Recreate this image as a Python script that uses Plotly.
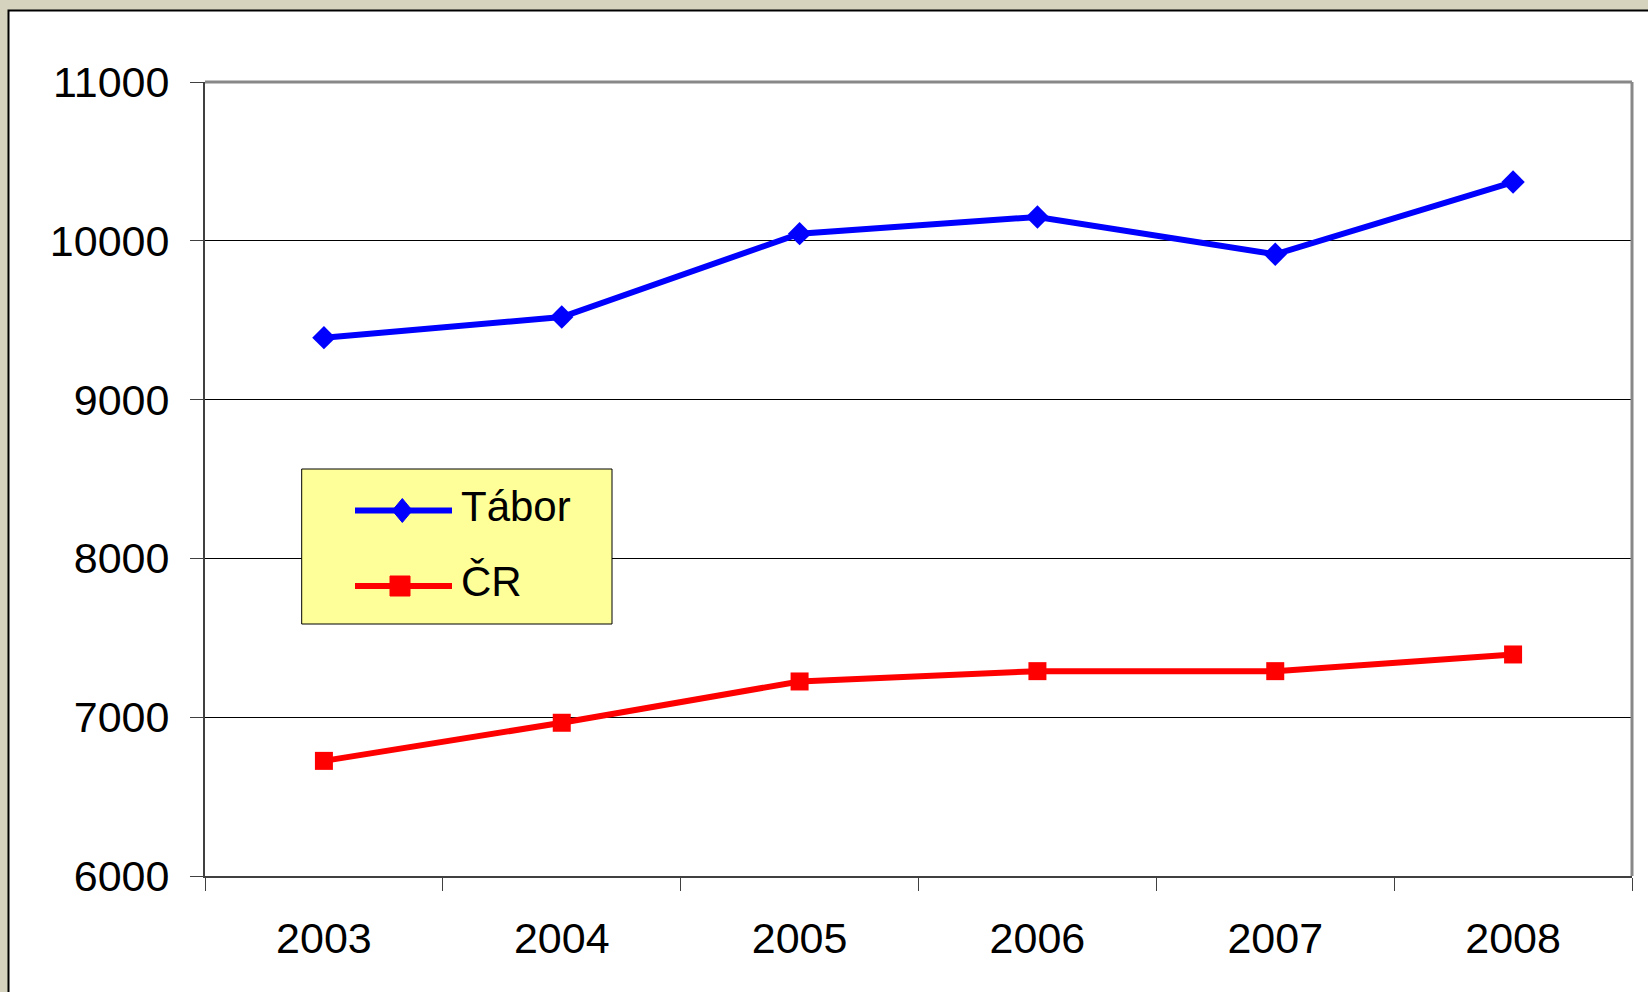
import plotly.graph_objects as go

years = ["2003", "2004", "2005", "2006", "2007", "2008"]
tabor = [9390, 9520, 10045, 10150, 9915, 10370]
cr = [6725, 6965, 7225, 7290, 7290, 7395]
series_names = ["Tábor", "ČR"]
y_ticks = [6000, 7000, 8000, 9000, 10000, 11000]

FONT = "Arial, Liberation Sans, sans-serif"
W, H = 1648, 992
L, R, T, B = 205, 16, 82, 116
PW, PH = W - L - R, H - T - B


def px(x):
    return (x - L) / PW


def py(y):
    return (H - B - y) / PH


fig = go.Figure()
fig.add_trace(go.Scatter(x=years, y=tabor, mode="lines+markers", name=series_names[0],
                         line=dict(color="#0000ff", width=6),
                         marker=dict(symbol="diamond", size=18, color="#0000ff"),
                         showlegend=False))
fig.add_trace(go.Scatter(x=years, y=cr, mode="lines+markers", name=series_names[1],
                         line=dict(color="#ff0000", width=6),
                         marker=dict(symbol="square", size=18, color="#ff0000"),
                         showlegend=False))

shapes = [
    # white panel
    dict(type="rect", xref="paper", yref="paper", x0=px(8.5), x1=px(1700), y0=py(1100), y1=py(10.5),
         fillcolor="white", line=dict(color="black", width=2), layer="below"),
    # top and right plot border
    dict(type="line", xref="paper", yref="paper", x0=0, x1=1, y0=1, y1=1,
         line=dict(color="#888888", width=3)),
    dict(type="line", xref="paper", yref="paper", x0=1, x1=1, y0=0, y1=1,
         line=dict(color="#888888", width=3)),
    # legend box
    dict(type="rect", xref="paper", yref="paper", x0=px(301.7), x1=px(612), y0=py(624), y1=py(469),
         fillcolor="#ffff99", line=dict(color="black", width=1)),
    # legend lines
    dict(type="line", xref="paper", yref="paper", x0=px(355), x1=px(452), y0=py(510.5), y1=py(510.5),
         line=dict(color="#0000ff", width=6)),
    dict(type="line", xref="paper", yref="paper", x0=px(355), x1=px(452), y0=py(586), y1=py(586),
         line=dict(color="#ff0000", width=6)),
    # legend diamond
    dict(type="path", xref="paper", yref="paper",
         path=f"M {px(402.3)},{py(498.5)} L {px(412.3)},{py(510.5)} L {px(402.3)},{py(522.5)} L {px(392.3)},{py(510.5)} Z",
         fillcolor="#0000ff", line=dict(color="#0000ff", width=1)),
    # legend square
    dict(type="rect", xref="paper", yref="paper", x0=px(390), x1=px(410), y0=py(596), y1=py(576),
         fillcolor="#ff0000", line=dict(color="#ff0000", width=1)),
]

annotations = [
    dict(text=series_names[0], xref="paper", yref="paper", x=px(459), y=py(506), xanchor="left", yanchor="middle",
         showarrow=False, font=dict(family=FONT, size=42, color="black")),
    dict(text=series_names[1], xref="paper", yref="paper", x=px(459), y=py(581), xanchor="left", yanchor="middle",
         showarrow=False, font=dict(family=FONT, size=42, color="black")),
]

fig.update_layout(
    width=W, height=H,
    margin=dict(l=L, r=R, t=T, b=B, pad=0),
    paper_bgcolor="#d5d2bd",
    plot_bgcolor="white",
    font=dict(family=FONT, size=43, color="black"),
    shapes=shapes,
    annotations=annotations,
    showlegend=False,
)
fig.update_xaxes(
    type="category", categoryorder="array", categoryarray=years, range=[-0.5, 5.5],
    showgrid=False, showline=True, linecolor="#404040", linewidth=2,
    ticks="outside", tickson="boundaries", ticklen=13, tickcolor="#404040", tickwidth=1,
    tickfont=dict(family=FONT, size=43, color="black"), ticklabelstandoff=23,
)
fig.update_yaxes(
    range=[6000, 11000], tickvals=y_ticks, ticktext=[str(v) for v in y_ticks],
    showgrid=True, gridcolor="#000000", gridwidth=1,
    showline=True, linecolor="#404040", linewidth=2,
    ticks="outside", ticklen=13, tickcolor="#404040", tickwidth=1,
    tickfont=dict(family=FONT, size=43, color="black"), ticklabelstandoff=12,
    zeroline=False,
)

fig.write_html("out.html", config={"displayModeBar": False},
               post_script="document.body.style.margin='0';document.body.style.overflow='hidden';")
